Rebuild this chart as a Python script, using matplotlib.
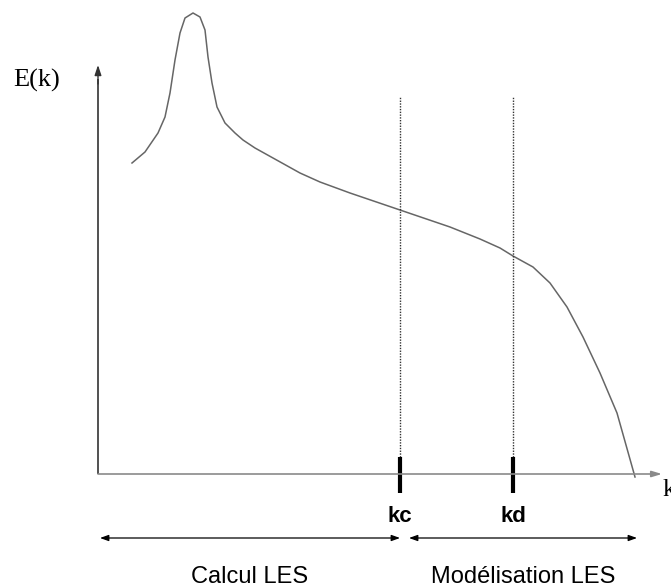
import matplotlib
matplotlib.use("Agg")
import matplotlib.pyplot as plt

# Spectrum E(k), schematic (arbitrary units, origin at the axes corner)
K_VALUES = [34, 47, 60, 67, 72, 77, 82, 87, 95, 102, 107, 110, 114, 119, 127,
            137, 145, 157, 175, 202, 222, 252, 302, 352, 382, 402, 415, 435,
            452, 469, 485, 502, 519, 537]
E_VALUES = [311, 322, 341, 357, 381, 414, 441, 456, 461, 457, 444, 417, 391,
            367, 351, 341, 334, 326, 316, 301, 292, 281, 264, 247, 235, 226,
            218, 207, 191, 167, 137, 101, 61, -3]

CUTOFFS = [302, 415]
CUTOFF_LABELS = ["kc", "kd"]
REGION_LABELS = ["Calcul LES", "Modélisation LES"]
REGION_SPANS = [(2, 302), (311, 539)]

SANS = ["Liberation Sans", "DejaVu Sans"]
SERIF = ["Liberation Serif", "DejaVu Serif"]


def main() -> None:
    fig = plt.figure(figsize=(6.71, 5.88), dpi=100)
    ax = fig.add_axes([0, 0, 1, 1])
    ax.set_xlim(-98, 573)
    ax.set_ylim(-114, 474)
    ax.axis("off")

    # axes
    ax.plot([0, 0], [0, 395], color="#333333", lw=1.2, solid_capstyle="butt")
    ax.annotate("", xy=(0, 409), xytext=(0, 390),
                arrowprops=dict(arrowstyle="-|>,head_length=0.6,head_width=0.2",
                                color="#333333", lw=1.0, shrinkA=0, shrinkB=0))
    ax.annotate("", xy=(564, 0), xytext=(0, 0),
                arrowprops=dict(arrowstyle="-|>,head_length=0.6,head_width=0.18",
                                color="#8a8a8a", lw=1.2, shrinkA=0, shrinkB=0))

    ax.plot(K_VALUES, E_VALUES, color="#666666", lw=1.1,
            solid_joinstyle="round")

    for k, label in zip(CUTOFFS, CUTOFF_LABELS):
        ax.plot([k, k], [17, 378], color="#333333", lw=1.0, ls=(0, (1, 1)))
        ax.plot([k, k], [-19, 17], color="black", lw=3.0, solid_capstyle="butt")
        ax.text(k, -43, label, ha="center", va="center", fontsize=16,
                fontweight="bold", family=SANS)

    for (k0, k1), label in zip(REGION_SPANS, REGION_LABELS):
        ax.annotate("", xy=(k1, -64), xytext=(k0, -64),
                    arrowprops=dict(arrowstyle="<|-|>,head_length=0.5,head_width=0.18",
                                    color="black", lw=0.9, shrinkA=0, shrinkB=0))
        ax.text((k0 + k1) / 2, -103, label, ha="center", va="center",
                fontsize=17, family=SANS)

    ax.text(-61, 394, "E(k)", ha="center", va="center", fontsize=19, family=SERIF)
    # the reference crops this label at the right edge
    ax.text(565, -16, "k", ha="left", va="center", fontsize=19, family=SERIF)

    fig.savefig("out.png", dpi=100)
    plt.close(fig)


if __name__ == "__main__":
    main()
